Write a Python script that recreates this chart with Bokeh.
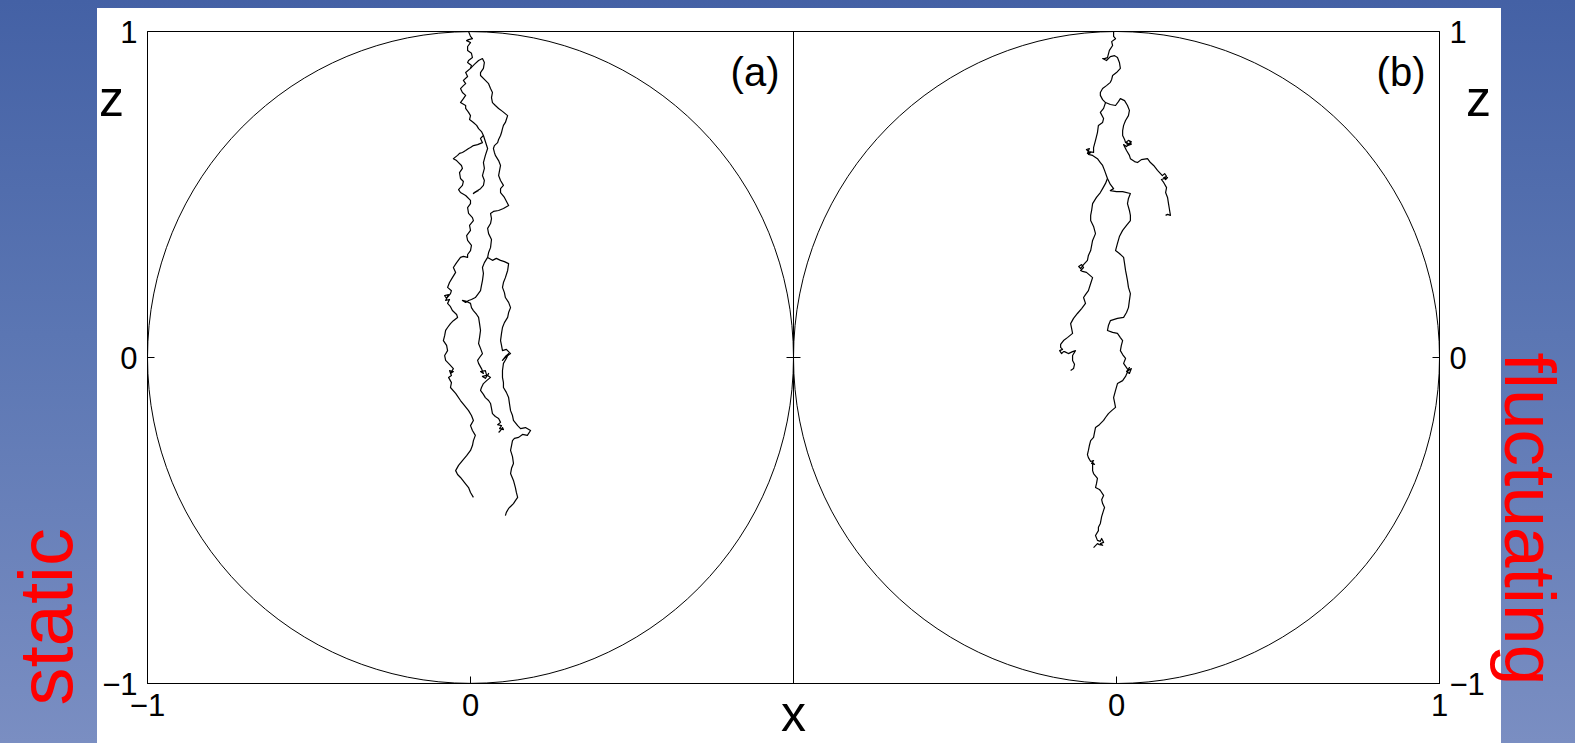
from bokeh.plotting import figure
from bokeh.models import Range1d, LinearAxis, FixedTicker, Label, Span
from bokeh.core.properties import value
from bokeh.embed import file_html
from bokeh.resources import INLINE
import math

# Trajectories as (x, z) points on the unit disc; every walk starts at the pole z = 1.
static_walk_left = [(-0.006,1.000),(0.000,0.985),(0.006,0.978),(-0.006,0.975),(-0.012,0.972),(0.000,0.966),(-0.009,0.954),(-0.009,0.942),(0.003,0.933),(0.006,0.920),(-0.006,0.911),(-0.009,0.905),(0.003,0.896),(0.000,0.887),(-0.015,0.874),(-0.009,0.862),(-0.022,0.850),(-0.015,0.840),(-0.022,0.834),(-0.031,0.825),(-0.025,0.813),(-0.015,0.804),(-0.022,0.794),(-0.031,0.782),(-0.015,0.773),(-0.015,0.764),(-0.006,0.752),(0.000,0.742),(-0.003,0.730),(0.009,0.721),(0.019,0.712),(0.025,0.702),(0.034,0.693),(0.040,0.681),(0.031,0.672),(0.037,0.659),(0.022,0.653),(0.009,0.650),(0.000,0.644),(-0.006,0.641),(-0.015,0.635),(-0.025,0.629),(-0.034,0.626),(-0.040,0.620),(-0.053,0.610),(-0.043,0.604),(-0.037,0.598),(-0.028,0.589),(-0.025,0.580),(-0.034,0.567),(-0.031,0.549),(-0.022,0.540),(-0.025,0.528),(-0.037,0.515),(-0.031,0.506),(-0.015,0.497),(0.000,0.482),(0.000,0.472),(-0.009,0.460),(-0.006,0.442),(0.006,0.429),(0.009,0.420),(-0.003,0.405),(0.000,0.390),(-0.012,0.374),(-0.009,0.359),(0.003,0.344),(0.000,0.328),(-0.009,0.316),(-0.009,0.307),(-0.022,0.310),(-0.031,0.307),(-0.043,0.291),(-0.053,0.276),(-0.046,0.261),(-0.056,0.245),(-0.065,0.230),(-0.071,0.215),(-0.059,0.205),(-0.062,0.196),(-0.074,0.181),(-0.080,0.190),(-0.068,0.193),(-0.077,0.175),(-0.065,0.178),(-0.071,0.166),(-0.062,0.156),(-0.056,0.144),(-0.043,0.132),(-0.040,0.123),(-0.053,0.113),(-0.062,0.104),(-0.071,0.092),(-0.077,0.083),(-0.080,0.067),(-0.084,0.052),(-0.074,0.037),(-0.071,0.021),(-0.080,0.006),(-0.077,-0.009),(-0.065,-0.021),(-0.053,-0.034),(-0.062,-0.049),(-0.053,-0.043),(-0.065,-0.040),(-0.059,-0.055),(-0.068,-0.061),(-0.059,-0.077),(-0.062,-0.092),(-0.046,-0.110),(-0.031,-0.132),(-0.019,-0.147),(-0.006,-0.163),(0.003,-0.178),(0.009,-0.193),(0.000,-0.209),(0.006,-0.224),(0.015,-0.239),(0.009,-0.255),(0.006,-0.270),(0.000,-0.285),(-0.012,-0.301),(-0.025,-0.316),(-0.037,-0.331),(-0.046,-0.347),(-0.040,-0.359),(-0.031,-0.368),(-0.019,-0.383),(-0.006,-0.399),(0.000,-0.414),(0.009,-0.429)]

static_walk_right = [(0.000,0.887),(0.012,0.899),(0.025,0.911),(0.037,0.917),(0.043,0.905),(0.040,0.887),(0.031,0.874),(0.031,0.865),(0.043,0.853),(0.056,0.840),(0.062,0.825),(0.068,0.813),(0.065,0.797),(0.068,0.782),(0.077,0.773),(0.087,0.764),(0.099,0.755),(0.115,0.742),(0.111,0.730),(0.108,0.721),(0.102,0.712),(0.099,0.702),(0.096,0.690),(0.093,0.681),(0.087,0.669),(0.084,0.659),(0.074,0.650),(0.071,0.641),(0.074,0.629),(0.077,0.620),(0.087,0.604),(0.093,0.589),(0.090,0.574),(0.087,0.558),(0.093,0.543),(0.102,0.528),(0.093,0.518),(0.093,0.506),(0.105,0.491),(0.118,0.466),(0.102,0.457),(0.087,0.451),(0.071,0.448),(0.062,0.442),(0.065,0.426),(0.062,0.411),(0.053,0.396),(0.056,0.380),(0.065,0.362),(0.062,0.337),(0.056,0.322),(0.053,0.307),(0.068,0.298),(0.080,0.304),(0.093,0.298),(0.105,0.294),(0.118,0.288),(0.115,0.267),(0.108,0.245),(0.102,0.230),(0.099,0.215),(0.105,0.199),(0.108,0.184),(0.118,0.169),(0.124,0.153),(0.118,0.138),(0.115,0.123),(0.105,0.107),(0.099,0.092),(0.096,0.074),(0.093,0.052),(0.096,0.037),(0.099,0.021),(0.111,0.025),(0.124,0.012),(0.111,0.003),(0.099,-0.009),(0.108,0.003),(0.118,0.012),(0.111,-0.003),(0.102,-0.018),(0.099,-0.040),(0.099,-0.061),(0.102,-0.077),(0.102,-0.092),(0.111,-0.107),(0.118,-0.123),(0.121,-0.144),(0.124,-0.163),(0.130,-0.178),(0.133,-0.193),(0.146,-0.209),(0.155,-0.218),(0.170,-0.215),(0.186,-0.224),(0.176,-0.239),(0.161,-0.236),(0.149,-0.245),(0.136,-0.248),(0.130,-0.255),(0.127,-0.270),(0.124,-0.285),(0.130,-0.304),(0.133,-0.325),(0.127,-0.340),(0.124,-0.356),(0.133,-0.377),(0.139,-0.399),(0.142,-0.414),(0.146,-0.429),(0.139,-0.439),(0.133,-0.448),(0.124,-0.457),(0.118,-0.463),(0.111,-0.475),(0.108,-0.485)]

static_walk_middle = [(0.053,0.307),(0.043,0.291),(0.037,0.276),(0.040,0.258),(0.037,0.236),(0.034,0.221),(0.031,0.205),(0.022,0.193),(0.015,0.184),(0.003,0.178),(-0.006,0.175),(-0.015,0.169),(-0.025,0.175),(-0.012,0.172),(0.000,0.166),(0.003,0.153),(0.009,0.144),(0.019,0.132),(0.025,0.123),(0.028,0.104),(0.031,0.083),(0.028,0.061),(0.025,0.043),(0.031,0.028),(0.037,0.012),(0.028,0.000),(0.022,-0.009),(0.025,-0.018),(0.034,-0.034),(0.040,-0.049),(0.031,-0.043),(0.046,-0.040),(0.050,-0.055),(0.037,-0.058),(0.046,-0.064),(0.056,-0.049),(0.053,-0.055),(0.062,-0.061),(0.050,-0.071),(0.040,-0.080),(0.034,-0.092),(0.031,-0.101),(0.040,-0.113),(0.046,-0.123),(0.056,-0.132),(0.062,-0.141),(0.065,-0.156),(0.068,-0.172),(0.077,-0.181),(0.087,-0.187),(0.093,-0.199),(0.084,-0.206),(0.096,-0.209),(0.090,-0.218),(0.102,-0.221),(0.099,-0.215),(0.093,-0.224),(0.087,-0.230)]

static_walk_spur = [(0.040,0.681),(0.053,0.641),(0.046,0.620),(0.040,0.598),(0.043,0.580),(0.037,0.558),(0.043,0.543),(0.040,0.528),(0.031,0.518),(0.022,0.512),(0.012,0.506),(0.009,0.503),(0.019,0.509),(0.025,0.512)]

fluct_walk_branch = [(-0.009,1.000),(-0.009,0.985),(-0.003,0.978),(-0.015,0.969),(-0.012,0.957),(-0.022,0.942),(-0.028,0.920),(-0.037,0.917),(-0.043,0.917),(-0.031,0.911),(-0.019,0.923),(-0.006,0.926),(0.003,0.920),(0.009,0.905),(0.012,0.887),(0.000,0.874),(-0.012,0.865),(-0.015,0.853),(-0.019,0.844),(-0.031,0.834),(-0.043,0.825),(-0.050,0.813),(-0.050,0.804),(-0.043,0.791),(-0.034,0.782),(-0.019,0.776),(-0.003,0.773),(0.006,0.785),(0.012,0.794),(0.025,0.788),(0.034,0.773),(0.040,0.758),(0.037,0.742),(0.028,0.727),(0.022,0.712),(0.019,0.696),(0.019,0.681),(0.025,0.669),(0.028,0.659),(0.037,0.666),(0.046,0.662),(0.040,0.653),(0.031,0.660),(0.034,0.650),(0.046,0.654),(0.040,0.664),(0.043,0.659),(0.031,0.647),(0.022,0.653),(0.031,0.635),(0.040,0.620),(0.043,0.610),(0.056,0.601),(0.065,0.598),(0.077,0.607),(0.096,0.610),(0.105,0.598),(0.115,0.589),(0.127,0.574),(0.142,0.558),(0.149,0.564),(0.155,0.556),(0.146,0.551),(0.152,0.546),(0.158,0.552),(0.149,0.549),(0.139,0.546),(0.146,0.537),(0.155,0.521),(0.152,0.506),(0.158,0.491),(0.161,0.472),(0.164,0.454),(0.167,0.436),(0.158,0.439),(0.152,0.436)]

fluct_walk_left = [(-0.034,0.782),(-0.040,0.764),(-0.050,0.752),(-0.040,0.733),(-0.043,0.721),(-0.056,0.712),(-0.059,0.690),(-0.065,0.666),(-0.071,0.644),(-0.071,0.629),(-0.087,0.632),(-0.093,0.638),(-0.084,0.641),(-0.090,0.626),(-0.080,0.629),(-0.087,0.623),(-0.074,0.620),(-0.059,0.610),(-0.050,0.598),(-0.043,0.589),(-0.037,0.574),(-0.028,0.549),(-0.034,0.534),(-0.043,0.518),(-0.050,0.506),(-0.062,0.491),(-0.074,0.472),(-0.077,0.451),(-0.080,0.436),(-0.080,0.420),(-0.071,0.402),(-0.065,0.380),(-0.074,0.359),(-0.080,0.328),(-0.087,0.313),(-0.090,0.298),(-0.102,0.285),(-0.111,0.273),(-0.117,0.279),(-0.108,0.285),(-0.102,0.276),(-0.111,0.267),(-0.105,0.264),(-0.093,0.261),(-0.074,0.245),(-0.080,0.227),(-0.087,0.205),(-0.096,0.193),(-0.102,0.184),(-0.096,0.166),(-0.108,0.150),(-0.121,0.135),(-0.133,0.120),(-0.142,0.104),(-0.139,0.089),(-0.136,0.074),(-0.152,0.061),(-0.164,0.052),(-0.173,0.040),(-0.173,0.031),(-0.167,0.025),(-0.176,0.021),(-0.170,0.012),(-0.164,0.018),(-0.161,0.018),(-0.149,0.012),(-0.136,0.018),(-0.127,0.021),(-0.136,0.006),(-0.136,-0.009),(-0.130,-0.021),(-0.133,-0.034),(-0.142,-0.040)]

fluct_walk_long = [(-0.028,0.549),(-0.019,0.531),(-0.009,0.518),(-0.019,0.512),(0.000,0.509),(0.019,0.509),(0.043,0.503),(0.037,0.488),(0.034,0.472),(0.040,0.451),(0.043,0.436),(0.043,0.420),(0.031,0.405),(0.019,0.390),(0.009,0.371),(0.003,0.350),(-0.003,0.328),(0.009,0.319),(0.022,0.307),(0.025,0.288),(0.028,0.267),(0.031,0.252),(0.034,0.236),(0.037,0.215),(0.043,0.196),(0.040,0.175),(0.037,0.153),(0.031,0.138),(0.022,0.123),(0.003,0.120),(-0.019,0.113),(-0.025,0.098),(-0.028,0.083),(-0.012,0.077),(0.003,0.074),(0.012,0.061),(0.019,0.052),(0.015,0.037),(0.012,0.021),(0.019,0.009),(0.028,-0.003),(0.022,-0.018),(0.031,-0.031),(0.037,-0.040),(0.046,-0.034),(0.040,-0.049),(0.031,-0.043),(0.040,-0.031),(0.028,-0.058),(0.019,-0.071),(0.003,-0.080),(-0.003,-0.101),(-0.009,-0.123),(-0.006,-0.138),(-0.003,-0.153),(-0.015,-0.163),(-0.025,-0.172),(-0.034,-0.184),(-0.040,-0.193),(-0.053,-0.206),(-0.065,-0.215),(-0.068,-0.230),(-0.071,-0.245),(-0.080,-0.255),(-0.084,-0.270),(-0.087,-0.285),(-0.090,-0.298),(-0.087,-0.307),(-0.080,-0.319),(-0.071,-0.316),(-0.077,-0.325),(-0.068,-0.328),(-0.074,-0.322),(-0.074,-0.331),(-0.074,-0.347),(-0.071,-0.356),(-0.059,-0.371),(-0.062,-0.387),(-0.065,-0.399),(-0.053,-0.405),(-0.050,-0.408),(-0.040,-0.423),(-0.046,-0.436),(-0.043,-0.448),(-0.037,-0.460),(-0.040,-0.469),(-0.046,-0.488),(-0.050,-0.509),(-0.056,-0.521),(-0.056,-0.531),(-0.065,-0.546),(-0.059,-0.561),(-0.050,-0.564),(-0.046,-0.555),(-0.040,-0.567),(-0.050,-0.571),(-0.043,-0.576),(-0.053,-0.574),(-0.059,-0.571),(-0.071,-0.583)]

static_walks = [static_walk_left, static_walk_right, static_walk_middle, static_walk_spur]
fluct_walks = [fluct_walk_branch, fluct_walk_left, fluct_walk_long]

z_ticks = [-1, 0, 1]
z_tick_labels = {-1: "\u22121", 0: "0", 1: "1"}
# panel (a) occupies x in [-1, 1]; panel (b) is drawn on its own range shifted by 2
x_ticks = [-1, 0, 2, 3]
x_tick_labels = {-1: "\u22121", 0: "0", 2: "0", 3: "1"}

W, H = 1575, 743
LEFT, RIGHT, TOP, BOTTOM = 147, 136, 31, 60
px_x = (W - LEFT - RIGHT) / 4.0
px_y = (H - TOP - BOTTOM) / 2.0

def sx(px):
    return (px - LEFT) / px_x - 1.0

def sy(py):
    return 1.0 - (py - TOP) / px_y

# ---- main figure: both panels with their axes ----
p = figure(width=W, height=H, output_backend="svg", toolbar_location=None,
           x_range=Range1d(-1, 3), y_range=Range1d(-1, 1),
           x_axis_location=None, y_axis_location=None,
           min_border_left=LEFT, min_border_right=RIGHT,
           min_border_top=TOP, min_border_bottom=BOTTOM,
           background_fill_color="white", border_fill_color=None)
p.extra_x_ranges = {"b": Range1d(-3, 1)}
p.grid.grid_line_color = None
p.outline_line_color = "black"
p.outline_line_width = 1
p.outline_line_alpha = 1.0
p.styles = {
    "background": "linear-gradient(#ffffff, #ffffff) 97px 8px / 1404px 735px no-repeat, "
                  "linear-gradient(180deg, #4461a5 0%, #5b76b3 45%, #7a8ec2 100%)"
}

def style_axis(ax):
    ax.axis_line_color = "black"
    ax.axis_line_width = 1
    ax.major_tick_line_color = "black"
    ax.major_tick_in = 7
    ax.major_tick_out = 0
    ax.minor_tick_line_color = None
    ax.major_label_text_font = "Liberation Sans"
    ax.major_label_text_font_size = "31px"
    ax.major_label_text_color = "black"
    ax.major_label_standoff = 10

ax_x = LinearAxis(ticker=FixedTicker(ticks=x_ticks), major_label_overrides=x_tick_labels)
style_axis(ax_x)
p.add_layout(ax_x, "below")
ax_zl = LinearAxis(ticker=FixedTicker(ticks=z_ticks), major_label_overrides=z_tick_labels)
style_axis(ax_zl)
p.add_layout(ax_zl, "left")
ax_zr = LinearAxis(ticker=FixedTicker(ticks=z_ticks), major_label_overrides=z_tick_labels)
style_axis(ax_zr)
p.add_layout(ax_zr, "right")

# divider between the two panels, with its inward ticks at z = 0
p.add_layout(Span(location=1, dimension="height", line_color="black", line_width=1))
tick_len = 7 / px_x
p.segment(x0=[1 - tick_len], x1=[1 + tick_len], y0=[0], y1=[0], line_color="black", line_width=1)

# unit circles
p.ellipse(x=0, y=0, width=2, height=2, fill_color=None, line_color="black", line_width=1)
p.ellipse(x=0, y=0, width=2, height=2, fill_color=None, line_color="black", line_width=1,
          x_range_name="b")

p.multi_line(xs=[[q[0] for q in w] for w in static_walks],
             ys=[[q[1] for q in w] for w in static_walks],
             line_color="black", line_width=1.2, line_join="round")
p.multi_line(xs=[[q[0] for q in w] for w in fluct_walks],
             ys=[[q[1] for q in w] for w in fluct_walks],
             line_color="black", line_width=1.2, line_join="round", x_range_name="b")

for px, txt in [(779, "(a)"), (1425, "(b)")]:
    p.add_layout(Label(x=sx(px), y=sy(71), text=txt, text_font="Liberation Sans",
                       text_font_size="40px", text_align="right", text_baseline="alphabetic",
                       text_color="black"))

# ---- transparent overlay spanning the whole page for the texts outside the frame ----
ov = figure(width=W, height=H, output_backend="svg", toolbar_location=None,
            x_range=Range1d(sx(0), sx(W)), y_range=Range1d(sy(H), sy(0)),
            x_axis_location=None, y_axis_location=None,
            min_border_left=0, min_border_right=0, min_border_top=0, min_border_bottom=0,
            background_fill_color=None, border_fill_color=None, outline_line_color=None)
ov.grid.grid_line_color = None
ov.styles = {"position": "absolute", "top": "0px", "left": "0px"}

ov.text(x=[sx(111), sx(1478), sx(793)], y=[sy(98), sy(98), sy(713)], text=["z", "z", "x"],
        text_font=value("Liberation Sans"), text_font_size=value("50px"),
        text_align="center", text_baseline="alphabetic", text_color="black")
ov.text(x=[sx(45)], y=[sy(705)], text=["static"], angle=math.pi / 2,
        text_font=value("Liberation Sans"), text_font_size=value("76px"),
        text_align="left", text_baseline="alphabetic", text_color="#ff0000")
ov.text(x=[sx(1530)], y=[sy(352)], text=["fluctuating"], angle=-math.pi / 2,
        text_font=value("Liberation Sans"), text_font_size=value("73px"),
        text_align="left", text_baseline="alphabetic", text_color="#ff0000")

open("out.html", "w").write(file_html([p, ov], INLINE))
